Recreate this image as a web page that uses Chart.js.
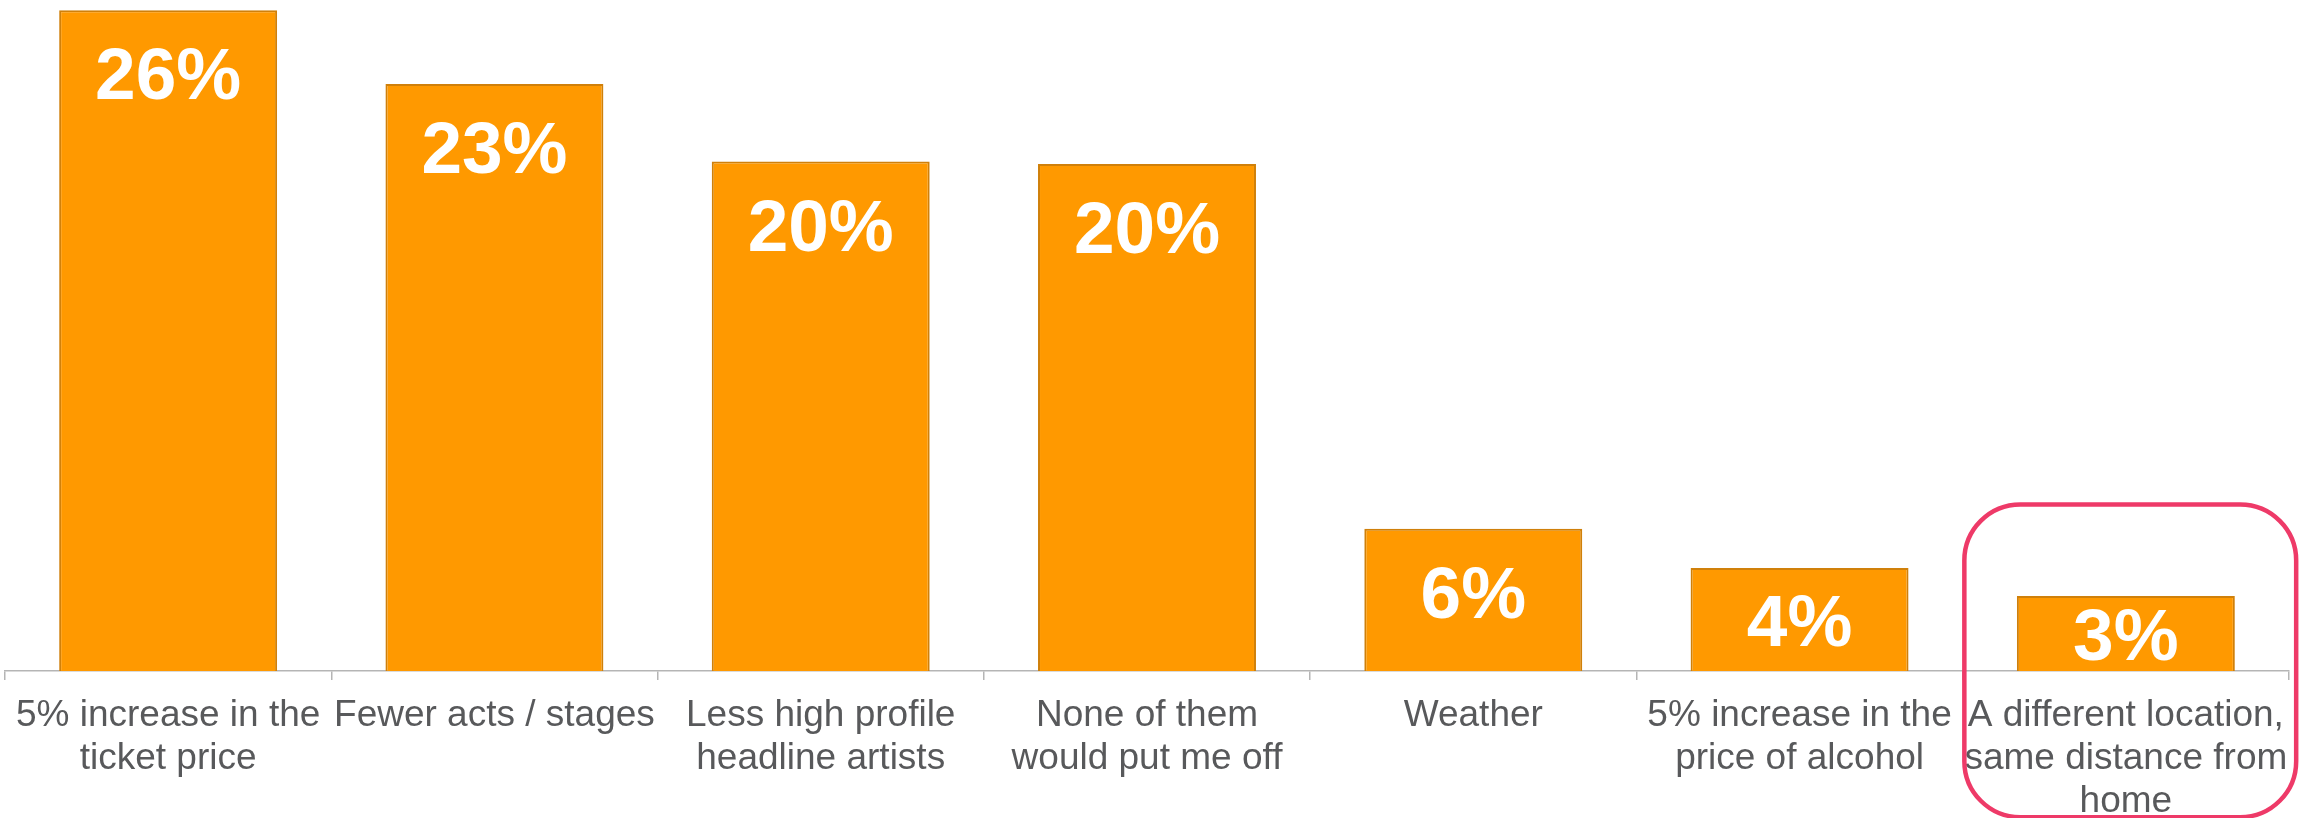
<!DOCTYPE html>
<html>
<head>
<meta charset="utf-8">
<script src="https://cdn.jsdelivr.net/npm/chart.js@4.4.0/dist/chart.umd.min.js"></script>
<style>
  html, body { margin: 0; padding: 0; background: #ffffff; overflow: hidden; }
  #wrap { position: relative; width: 2315px; height: 837px; }
</style>
</head>
<body>
<div id="wrap"><canvas id="c"></canvas></div>
<script>
// ---- data ----
const categories = [
  ["5% increase in the", "ticket price"],
  "Fewer acts / stages",
  ["Less high profile", "headline artists"],
  ["None of them", "would put me off"],
  "Weather",
  ["5% increase in the", "price of alcohol"],
  ["A different location,", "same distance from", "home"]
];
const values = [26.0, 23.1, 20.05, 19.95, 5.6, 4.05, 2.95];
const valueLabels = ["26%", "23%", "20%", "20%", "6%", "4%", "3%"];
// highlighted category (index) and its box extent in value units
const highlightIndex = 6;
const highlightTop = 6.55;
const highlightBottom = -5.75;

const valueLabelPlugin = {
  id: 'valueLabels',
  afterDatasetsDraw(chart) {
    const ctx = chart.ctx;
    const meta = chart.getDatasetMeta(0);
    const fs = 73;
    const capH = fs * 0.729;
    ctx.save();
    ctx.fillStyle = '#ffffff';
    ctx.font = 'bold ' + fs + 'px "Liberation Sans", Arial, sans-serif';
    ctx.textAlign = 'center';
    ctx.textBaseline = 'alphabetic';
    meta.data.forEach((bar, i) => {
      const top = bar.y, base = bar.base;
      const yFixed = top + 36 + capH;
      const yMid = (top + base) / 2 + capH / 2;
      ctx.fillText(valueLabels[i], bar.x, Math.min(yFixed, yMid));
    });
    ctx.restore();
  }
};

const highlightPlugin = {
  id: 'highlightBox',
  afterDraw(chart) {
    const xs = chart.scales.x, ys = chart.scales.y;
    const cx = xs.getPixelForValue(highlightIndex);
    const step = xs.getPixelForValue(1) - xs.getPixelForValue(0);
    const left = cx - step * 0.495;
    const right = cx + step * 0.522;
    const top = ys.getPixelForValue(highlightTop);
    const bottom = ys.getPixelForValue(highlightBottom);
    const r = 56;
    const ctx = chart.ctx;
    ctx.save();
    ctx.strokeStyle = '#ee3a68';
    ctx.lineWidth = 4.5;
    ctx.beginPath();
    ctx.roundRect(left, top, right - left, bottom - top, r);
    ctx.stroke();
    ctx.restore();
  }
};

new Chart(document.getElementById('c'), {
  type: 'bar',
  data: {
    labels: categories,
    datasets: [{
      data: values,
      backgroundColor: '#ff9900',
      borderColor: '#d0800a',
      borderWidth: 2,
      borderSkipped: 'start',
      categoryPercentage: 1.0,
      barPercentage: 0.668
    }]
  },
  options: {
    responsive: true,
    maintainAspectRatio: false,
    devicePixelRatio: 1,
    animation: false,
    layout: { padding: { left: 5, right: 26, top: 0, bottom: 0 } },
    plugins: { legend: { display: false }, tooltip: { enabled: false } },
    scales: {
      y: { display: false, min: 0, max: 26.4 },
      x: {
        offset: true,
        grid: { drawOnChartArea: false, drawTicks: true, tickLength: 9, color: '#b5b5b5', lineWidth: 1.5 },
        border: { display: true, color: '#b5b5b5', width: 1.5 },
        ticks: {
          autoSkip: false, maxRotation: 0, minRotation: 0,
          color: '#58595b', padding: 14,
          font: { family: '"Liberation Sans", Arial, sans-serif', size: 37, lineHeight: 1.162 }
        }
      }
    }
  },
  plugins: [valueLabelPlugin, highlightPlugin]
});
</script>
</body>
</html>
